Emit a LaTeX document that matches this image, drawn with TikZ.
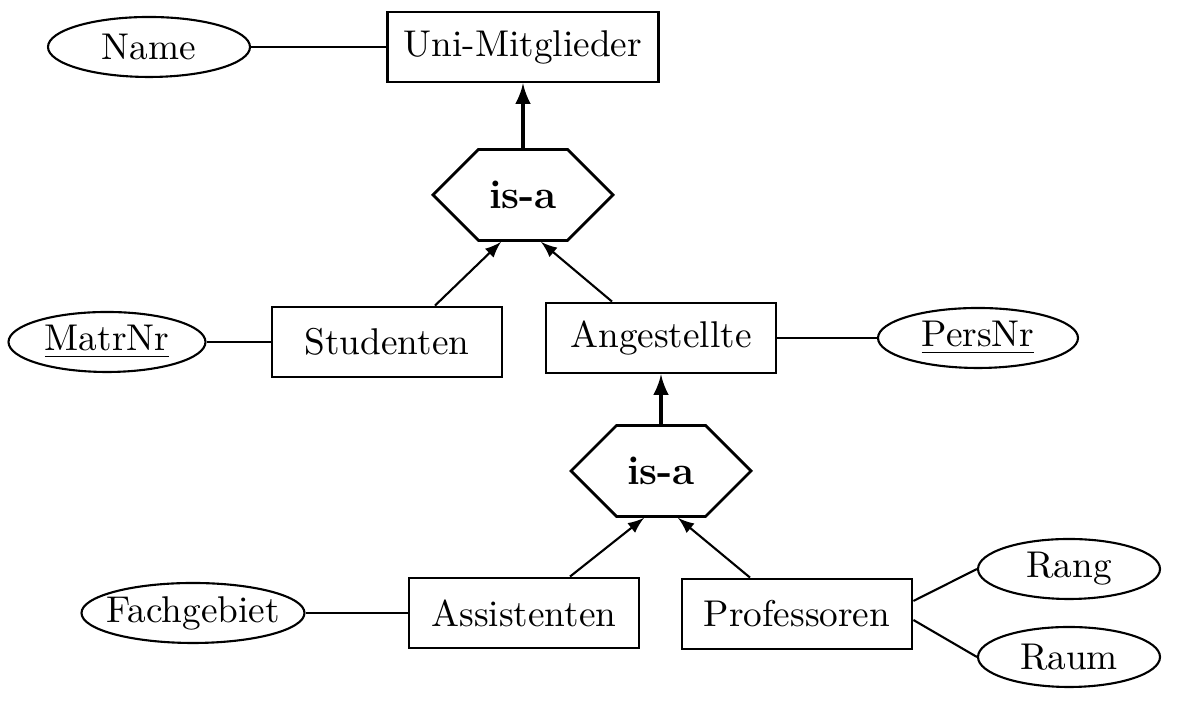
\documentclass[tikz,border=0pt]{standalone}
\usetikzlibrary{shapes.geometric,shapes.symbols,arrows}

\begin{document}
\begin{tikzpicture}[
    every node/.style={font=\fontsize{10.6pt}{13pt}\selectfont},
    entity/.style={rectangle, draw, line width=0.8pt, minimum width=2.3cm, minimum height=0.7cm},
    attr/.style={ellipse, draw, line width=0.6pt, inner xsep=-3pt, inner ysep=0pt, minimum width=1.85cm, minimum height=0.6cm},
    isa/.style={signal, signal to=east and west, signal pointer angle=90, draw, line width=0.8pt, minimum width=1.8cm, minimum height=0.91cm, inner xsep=0pt, font=\fontsize{11.5pt}{14pt}\selectfont\bfseries},
    link/.style={line width=0.6pt},
    arr/.style={->, >=latex, line width=0.6pt},
    uparr/.style={arr, line width=1pt},
]
\useasboundingbox (0,0) rectangle (12.04,7.23);
% entities
\node[entity, minimum width=2.71cm] (uni) at (5.23,6.76) {Uni-Mitglieder};
\node[entity] (stud) at (3.87,3.81) {Studenten};
\node[entity] (ang) at (6.61,3.85) {Angestellte};
\node[entity] (assi) at (5.24,1.10) {Assistenten};
\node[entity] (prof) at (7.97,1.09) {Professoren};
% generalisation
\node[isa] (isa1) at (5.23,5.28) {is-a};
\node[isa] (isa2) at (6.61,2.52) {is-a};
% attributes
\node[attr, minimum width=2.02cm] (name) at (1.49,6.76) {Name};
\node[attr, minimum width=1.97cm] (matr) at (1.07,3.81) {\underline{MatrNr}};
\node[attr, minimum width=2.0cm] (pers) at (9.78,3.85) {\underline{PersNr}};
\node[attr, minimum width=2.23cm] (fach) at (1.93,1.10) {Fachgebiet};
\node[attr, minimum width=1.82cm] (rang) at (10.69,1.54) {Rang};
\node[attr, minimum width=1.82cm] (raum) at (10.69,0.66) {Raum};
% attribute links
\draw[link] (name) -- (uni);
\draw[link] (matr) -- (stud);
\draw[link] (ang) -- (pers);
\draw[link] (fach) -- (assi);
\draw[link] ([yshift=0.13cm]prof.east) -- (rang.west);
\draw[link] ([yshift=-0.06cm]prof.east) -- (raum.west);
% is-a arrows
\draw[uparr] (isa1.north) -- (uni.south);
\draw[arr] ([xshift=0.48cm]stud.north) -- ([xshift=-0.22cm]isa1.south);
\draw[arr] ([xshift=-0.49cm]ang.north) -- ([xshift=0.18cm]isa1.south);
\draw[uparr] (isa2.north) -- (ang.south);
\draw[arr] ([xshift=0.46cm]assi.north) -- ([xshift=-0.17cm]isa2.south);
\draw[arr] ([xshift=-0.47cm]prof.north) -- ([xshift=0.17cm]isa2.south);
\end{tikzpicture}
\end{document}
